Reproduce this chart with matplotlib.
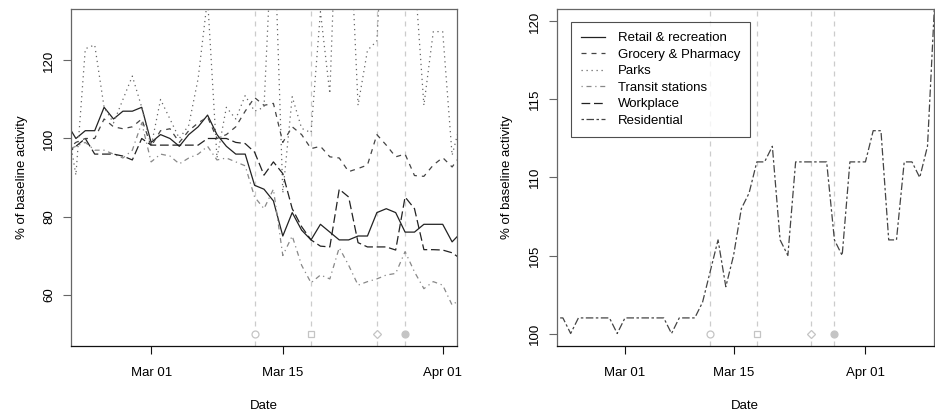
import matplotlib
matplotlib.use("Agg")
import matplotlib.pyplot as plt
import matplotlib.dates as mdates
import pandas as pd
import numpy as np

# ---------------- data ----------------
dates_main = pd.date_range("2020-02-21", "2020-04-03", freq="D")
dates_res = pd.date_range("2020-02-21", "2020-04-10", freq="D")

retail = [104, 100, 102, 102, 108, 105, 107, 107, 108, 99, 101, 100, 98, 101, 103, 106,
          101, 98, 96, 96, 88, 87, 84, 75, 81, 76.5, 74, 78, 76, 74, 74, 75, 75, 81, 82,
          81, 76, 76, 78, 78, 78, 73.5, 76]
grocery = [97, 99, 100, 100, 105, 103, 102.5, 103, 105, 98, 102, 102.5, 99, 102, 104, 105.5,
           100, 101, 103, 107, 110.5, 108.5, 109, 99, 103, 101, 97.4, 98, 95.3, 95, 91.5,
           92.3, 93.2, 101, 98.3, 95.3, 96, 90.5, 90.3, 93.2, 95.1, 92.7, 96]
parks = [105, 90.6, 123, 124, 108, 104, 110, 116, 108, 98, 110, 105, 100, 103.4, 115.4, 136,
         95, 108, 105, 111, 107, 108, 160, 86, 110.7, 102.6, 101.5, 132.5, 111.5, 178, 162,
         108.5, 122.6, 125, 169, 160, 150, 143, 108.5, 127.4, 127.4, 95.7, 105]
transit = [97, 98, 99, 97, 97, 96, 95, 97, 104, 94, 96, 95.5, 93.5, 95, 96, 98, 94.5, 95,
           94, 93, 85, 82, 87, 70, 75, 67.5, 63, 65, 64, 72, 67.5, 62.4, 63.3, 64, 65, 65.4,
           71, 65.8, 61.5, 63.3, 62.4, 57.3, 59]
workplace = [96, 98, 100, 96, 96, 96, 95.5, 94.5, 100, 98.3, 98.3, 98.3, 98.3, 98.3, 98.3,
             100, 100, 100, 99, 98.7, 96.5, 90.6, 94, 91, 82, 77.4, 74, 72.4, 72.2, 87, 85,
             73.3, 72.2, 72.2, 72.2, 71.4, 85, 82, 71.5, 71.5, 71.4, 70.7, 69]
residential = [101, 101, 100, 101, 101, 101, 101, 101, 100, 101, 101, 101, 101, 101, 101,
               100, 101, 101, 101, 102, 104, 106, 103, 105, 108, 109, 111, 111, 112, 106,
               105, 111, 111, 111, 111, 111, 106, 105, 111, 111, 111, 113, 113, 106, 106,
               111, 111, 110, 112, 122]

series_labels = ["Retail & recreation", "Grocery & Pharmacy", "Parks",
                 "Transit stations", "Workplace", "Residential"]

event_dates = pd.to_datetime(["2020-03-12", "2020-03-18", "2020-03-25", "2020-03-28"])
event_markers = ["o", "s", "D", "o"]
event_filled = [False, False, False, True]

left_ylim = (50, 130)
left_xrange = (pd.Timestamp("2020-02-23"), pd.Timestamp("2020-04-01"))
right_ylim = (100, 120)
right_xrange = (pd.Timestamp("2020-02-23"), pd.Timestamp("2020-04-08"))

left_yticks = [60, 80, 100, 120]
right_yticks = [100, 105, 110, 115, 120]
xtick_dates = pd.to_datetime(["2020-03-01", "2020-03-15", "2020-04-01"])
xtick_labels = ["Mar 01", "Mar 15", "Apr 01"]

# ---------------- style ----------------
plt.rcParams['font.family'] = ['Liberation Sans', 'DejaVu Sans']
FS = 9.5
LW = 0.9
styles = [
    dict(color="#222222", linestyle="-"),
    dict(color="#444444", linestyle=(0, (4, 4))),
    dict(color="#666666", linestyle=(0, (1, 3))),
    dict(color="#888888", linestyle=(0, (1, 3, 4, 3))),
    dict(color="#222222", linestyle=(0, (7, 3))),
    dict(color="#444444", linestyle=(0, (2, 2, 6, 2))),
]


def r_lim(lo, hi):
    r = hi - lo
    return lo - 0.04 * r, hi + 0.04 * r


def xr_lim(a, b):
    return r_lim(mdates.date2num(a), mdates.date2num(b))


fig = plt.figure(figsize=(9.35, 4.13), dpi=100)
W, H = 935, 413
axL = fig.add_axes([71 / W, (H - 346) / H, 386 / W, 337 / H])
axR = fig.add_axes([556.7 / W, (H - 346) / H, 377 / W, 337 / H])


def style_axes(ax, yticks, ylim, xrange_):
    ax.set_xlim(*xr_lim(*xrange_))
    ax.set_ylim(*r_lim(*ylim))
    ax.set_yticks(yticks)
    ax.set_yticklabels([str(t) for t in yticks], rotation=90, va="center", fontsize=FS)
    ax.set_xticks(mdates.date2num(xtick_dates))
    ax.set_xticklabels(xtick_labels, fontsize=FS)
    for s in ax.spines.values():
        s.set_color("#666666")
        s.set_linewidth(0.9)
    ax.spines["bottom"].set_color("#111111")
    ax.tick_params(axis="y", length=5.6, width=0.8, color="#666666", pad=6)
    ax.tick_params(axis="x", length=5.8, width=0.8, color="#111111", pad=9.5)
    ax.set_xlabel("Date", fontsize=FS, labelpad=15)
    ax.set_ylabel("% of baseline activity", fontsize=FS, labelpad=11)


def events(ax, ybase):
    for d, m, f in zip(event_dates, event_markers, event_filled):
        ax.axvline(d, color="#cccccc", lw=LW, linestyle=(0, (4, 4)), zorder=1)
        ax.plot([d], [ybase], marker=m, markersize=5 if m != "D" else 4.5,
                markerfacecolor="#c4c4c4" if f else "white",
                markeredgecolor="#c4c4c4", markeredgewidth=0.9, linestyle="none",
                zorder=3, clip_on=False)


events(axL, 50)
main_series = [retail, grocery, parks, transit, workplace]
for vals, st in zip(main_series, styles[:5]):
    axL.plot(dates_main, vals, lw=LW, zorder=2, **st)
style_axes(axL, left_yticks, left_ylim, left_xrange)

events(axR, 100)
axR.plot(dates_res, residential, lw=LW, zorder=2, **styles[5])
style_axes(axR, right_yticks, right_ylim, right_xrange)

handles = [plt.Line2D([], [], lw=LW, **st) for st in styles]
leg = axR.legend(handles, series_labels, loc="upper left",
                 bbox_to_anchor=(0.037, 0.9605), borderaxespad=0, fontsize=FS,
                 frameon=True, fancybox=False, handlelength=1.85, handletextpad=1.0,
                 labelspacing=0.32, borderpad=0.75)
leg.get_frame().set_edgecolor("#222222")
leg.get_frame().set_linewidth(0.8)

fig.savefig("out.png", dpi=100)
